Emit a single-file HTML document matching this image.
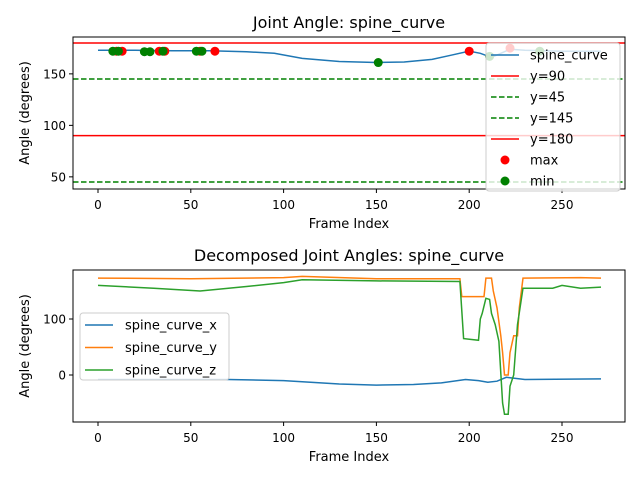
<!DOCTYPE html>
<html><head><meta charset="utf-8"><style>
body{margin:0;background:#fff}
svg{font-family:"DejaVu Sans","Liberation Sans",sans-serif}
</style></head><body>
<svg id="c" width="640" height="480"></svg>
<script>
const topFrames=[0,20,40,60,80,95,110,130,150,165,180,190,200,206,212,217,222,230,250,271];
const topVals=[173,173,172.5,172.5,171.5,170,165,162,161,161.5,164,168,172,170,166,170,174,173,172,172];
const maxFrames=[10,13,33,36,55,63,200,222];
const maxVals=[172,172,172,172,172,172,172,175];
const minFrames=[8,11,25,28,35,53,56,151,211,238];
const minVals=[172,172,171.5,171.5,172,172,172,161,167,172];
const hLines=[90,45,145,180];
const xTicks=[0,50,100,150,200,250];
const yTicksTop=[50,100,150];
const yTicksBot=[0,100];
const bxFrames=[0,70,100,130,150,170,185,198,205,210,215,220,230,271];
const bxVals=[-8,-8,-10,-16,-18,-17,-14,-8,-10,-13,-11,-4,-8,-7];
const byFrames=[0,50,100,110,150,195,196,205,208,209,212,213,215,217,218,219,221,222,224,226,227,229,260,271];
const byVals=[173,172,174,176,172,172,140,140,140,173,173,150,120,70,40,0,0,40,70,70,120,173,174,173];
const bzFrames=[0,30,55,80,100,110,150,195,197,205,206,207,209,211,212,214,216,218,219,221,222,224,226,229,245,250,260,271];
const bzVals=[160,155,150,158,165,170,168,167,65,62,100,110,137,135,110,90,60,-50,-70,-70,-20,0,90,155,155,160,155,157];

const svg=document.getElementById('c');const NS='http://www.w3.org/2000/svg';
function mk(t,a,p){const e=document.createElementNS(NS,t);for(const k in a)e.setAttribute(k,a[k]);(p||svg).appendChild(e);return e;}
function txt(s,x,y,a,p){const e=mk('text',a,p);e.setAttribute('x',x);e.setAttribute('y',y);e.textContent=s;return e;}
const X0=98,XS=(562-98)/250;const sx=v=>X0+v*XS;
const T={top:37,bot:189,vmax:185.8,vmin:38.2};const sy1=v=>T.top+(T.vmax-v)/(T.vmax-T.vmin)*(T.bot-T.top);
const B={top:270,bot:422,vmax:187.5,vmin:-83.9};const sy2=v=>B.top+(B.vmax-v)/(B.vmax-B.vmin)*(B.bot-B.top);
function axes(A,sy,yt,title,name){
 const g=mk('g',{});
 txt(title,349,A.top-9,{'font-size':'16','text-anchor':'middle'},g);
 xTicks.forEach(t=>{mk('line',{x1:sx(t),x2:sx(t),y1:A.bot,y2:A.bot+4,stroke:'#000'},g);txt(t,sx(t),A.bot+20,{'font-size':'12','text-anchor':'middle'},g);});
 yt.forEach(t=>{mk('line',{x1:73,x2:69,y1:sy(t),y2:sy(t),stroke:'#000'},g);txt(t,66,sy(t)+4.5,{'font-size':'12','text-anchor':'end'},g);});
 const xl=txt('Frame Index',349,A.bot+39,{'font-size':'13','text-anchor':'middle'},g);
 const yl=txt('Angle (degrees)',0,0,{'font-size':'13','text-anchor':'middle',transform:`translate(29,${(A.top+A.bot)/2}) rotate(-90)`},g);
 return g;}
function line(fr,vals,sy,col,name){const d=fr.map((f,i)=>(i?'L':'M')+sx(f).toFixed(1)+','+sy(vals[i]).toFixed(1)).join('');const p=mk('path',{d,fill:'none',stroke:col,'stroke-width':1.5});}
// top
axes(T,sy1,yTicksTop,'Joint Angle: spine_curve','top-axes');
line(topFrames,topVals,sy1,'#1f77b4','spine-curve-line');
hLines.forEach(h=>{const c=(h==90||h==180)?'red':'green';const l=mk('line',{x1:73,x2:625,y1:sy1(h),y2:sy1(h),stroke:c,'stroke-width':1.5});if(c=='green')l.setAttribute('stroke-dasharray','5.5,2.5');});
maxFrames.forEach((f,i)=>{const c=mk('circle',{cx:sx(f),cy:sy1(maxVals[i]),r:4.5,fill:'red'});});
minFrames.forEach((f,i)=>{const c=mk('circle',{cx:sx(f),cy:sy1(minVals[i]),r:4.5,fill:'green'});});
mk('rect',{x:73,y:T.top,width:552,height:T.bot-T.top,fill:'none',stroke:'#000'});
// top legend
const lg=mk('g',{});
mk('rect',{x:486,y:43,width:134,height:148,rx:3,fill:'rgba(255,255,255,0.8)',stroke:'#ccc'},lg);
const items=[['spine_curve','#1f77b4','l'],['y=90','red','l'],['y=45','green','d'],['y=145','green','d'],['y=180','red','l'],['max','red','o'],['min','green','o']];
items.forEach((it,i)=>{const y=55+i*21;if(it[2]=='o')mk('circle',{cx:505,cy:y,r:4.5,fill:it[1]},lg);else{const l=mk('line',{x1:491,x2:519,y1:y,y2:y,stroke:it[1],'stroke-width':1.5},lg);if(it[2]=='d')l.setAttribute('stroke-dasharray','5.5,2.5');}
 const t=txt(it[0],530,y+4.5,{'font-size':'13'},lg);});
// bottom
axes(B,sy2,yTicksBot,'Decomposed Joint Angles: spine_curve','bottom-axes');
line(bxFrames,bxVals,sy2,'#1f77b4','spine-curve-x-line');
line(byFrames,byVals,sy2,'#ff7f0e','spine-curve-y-line');
line(bzFrames,bzVals,sy2,'#2ca02c','spine-curve-z-line');
mk('rect',{x:73,y:B.top,width:552,height:B.bot-B.top,fill:'none',stroke:'#000'});
const lg2=mk('g',{});
mk('rect',{x:80,y:313,width:149,height:67,rx:3,fill:'rgba(255,255,255,0.8)',stroke:'#ccc'},lg2);
[['spine_curve_x','#1f77b4'],['spine_curve_y','#ff7f0e'],['spine_curve_z','#2ca02c']].forEach((it,i)=>{const y=325+i*22.5;mk('line',{x1:85,x2:113,y1:y,y2:y,stroke:it[1],'stroke-width':1.5},lg2);const t=txt(it[0],125,y+4.5,{'font-size':'13'},lg2);});
</script>
</body></html>
